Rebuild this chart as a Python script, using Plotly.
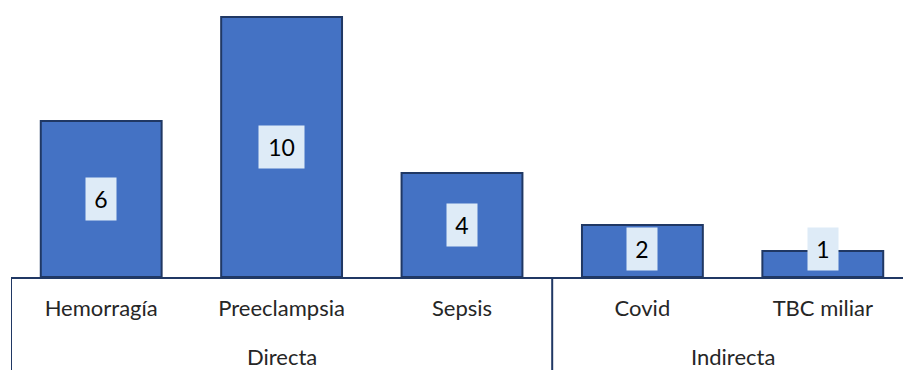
import plotly.graph_objects as go

categories = ["Hemorragía", "Preeclampsia", "Sepsis", "Covid", "TBC miliar"]
values = [6, 10, 4, 2, 1]
groups = ["Directa", "Indirecta"]
group_members = [[0, 1, 2], [3, 4]]

W, H = 903, 370
ML, MR, MT, MB = 11, 0, 0, 93
plot_h = H - MT - MB

FONT = "Lato, Carlito, Calibri, sans-serif"
NAVY = "#203864"
TEXT = "#262626"

fig = go.Figure()
fig.add_trace(go.Bar(
    x=list(range(len(categories))),
    y=values,
    marker=dict(color="#4472C4", line=dict(color=NAVY, width=2)),
    hoverinfo="skip",
))

# data labels
for i, v in enumerate(values):
    txt = str(v)
    fig.add_annotation(
        x=i, y=max(v / 2, 1.07), xref="x", yref="y",
        text=txt, showarrow=False,
        font=dict(family=FONT, size=23, color="#000000"),
        bgcolor="#DEEBF7",
        width=15 * len(txt) + 15, height=42, borderpad=0,
        xanchor="center", yanchor="middle",
    )

# group labels
for g, members in zip(groups, group_members):
    cx = sum(members) / len(members)
    fig.add_annotation(
        x=cx, y=(plot_h - (356 - MT)) / plot_h, xref="x", yref="paper",
        text=g, showarrow=False,
        font=dict(family=FONT, size=22, color=TEXT),
        xanchor="center", yanchor="middle",
    )

# divider lines below the axis
bottom = -MB / plot_h
for xv in [-0.5, 2.5]:
    fig.add_shape(type="line", xref="x", yref="paper",
                  x0=xv, x1=xv, y0=0, y1=bottom,
                  line=dict(color=NAVY, width=2))

cat_w = 180.4
x_max = -0.5 + (W - ML - MR) / cat_w

fig.update_layout(
    width=W, height=H,
    margin=dict(l=ML, r=MR, t=MT, b=MB),
    paper_bgcolor="white", plot_bgcolor="white",
    bargap=0.33,
    showlegend=False,
    xaxis=dict(
        range=[-0.5, x_max],
        tickmode="array",
        tickvals=list(range(len(categories))),
        ticktext=categories,
        tickfont=dict(family=FONT, size=22, color=TEXT),
        showline=True, linecolor=NAVY, linewidth=2,
        showgrid=False, zeroline=False, ticks="",
        ticklabelstandoff=11,
    ),
    yaxis=dict(
        range=[0, 277 / 26.0],
        visible=False,
        showgrid=False, zeroline=False,
    ),
)

fig.write_html("out.html")
